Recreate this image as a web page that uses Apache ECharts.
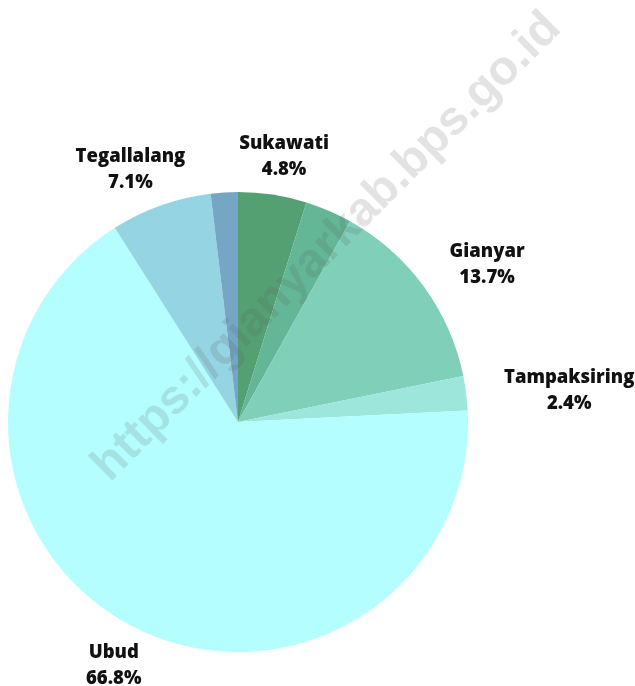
<!DOCTYPE html>
<html>
<head>
<meta charset="utf-8">
<script src="https://cdn.jsdelivr.net/npm/echarts@6/dist/echarts.min.js"></script>
<style>
	html, body { margin: 0; padding: 0; background: #fff; }
	#chart { width: 635px; height: 686px; }
</style>
</head>
<body>
<div id="chart"></div>
<script>
var kecamatan = ['Sukawati', 'Blahbatuh', 'Gianyar', 'Tampaksiring', 'Ubud', 'Tegallalang', 'Payangan'];
var persen = [4.8, 3.3, 13.7, 2.4, 66.8, 7.1, 1.9];
var tampilLabel = [true, false, true, true, true, true, false];
var warna = ['#54a073', '#63b796', '#7fcfb9', '#9de6dc', '#b5feff', '#95d4e2', '#75a7c4'];

var cx = 238, cy = 422, R = 230;
var total = persen.reduce(function(a, b) { return a + b; }, 0);

//sudut tengah irisan, dihitung dari atas searah jarum jam
function sudutTengah(i) {
	var sebelum = 0;
	for(var k = 0; k < i; k++) sebelum += persen[k];
	return (sebelum + persen[i] / 2) / total * Math.PI * 2;
}

var data = [];
for(var i = 0; i < kecamatan.length; i++) {
	data.push({
		name: kecamatan[i],
		value: persen[i],
		itemStyle: { color: warna[i] },
		label: { show: tampilLabel[i] }
	});
}

var myChart = echarts.init(document.getElementById('chart'));
var option = {
	animation: false,
	series: [{
		type: 'pie',
		center: [cx, cy],
		radius: R,
		startAngle: 90,
		clockwise: true,
		avoidLabelOverlap: false,
		emphasis: { disabled: true },
		itemStyle: { borderWidth: 0 },
		label: {
			position: 'outside',
			fontFamily: 'Open Sans',
			fontWeight: 800,
			fontSize: 18.5,
			lineHeight: 26,
			color: '#111',
			formatter: function(p) {
				return p.name + '\n' + p.value.toFixed(1) + '%';
			}
		},
		labelLine: { show: false },
		labelLayout: function(p) {
			var a = sudutTengah(p.dataIndex);
			var s = Math.sin(a), c = Math.cos(a);
			var w = p.labelRect.width, h = p.labelRect.height;
			var g = 15;
			return {
				x: cx + (R + g) * s + s * w / 2 + 22 * s * Math.abs(s) + 14 * s * c,
				y: cy - (R + g) * c - c * h / 2 + 3,
				align: 'center',
				verticalAlign: 'middle'
			};
		},
		data: data
	}],
	graphic: [{
		type: 'text',
		x: 327,
		y: 247,
		rotation: Math.PI / 4,
		z: 100,
		silent: true,
		style: {
			text: 'https://gianyarkab.bps.go.id',
			fontFamily: 'Liberation Sans',
			fontWeight: 'bold',
			fontSize: 48,
			fill: 'rgba(90,90,90,0.17)',
			align: 'center',
			verticalAlign: 'middle'
		}
	}]
};
myChart.setOption(option);
window.onresize = myChart.resize;
</script>
</body>
</html>
